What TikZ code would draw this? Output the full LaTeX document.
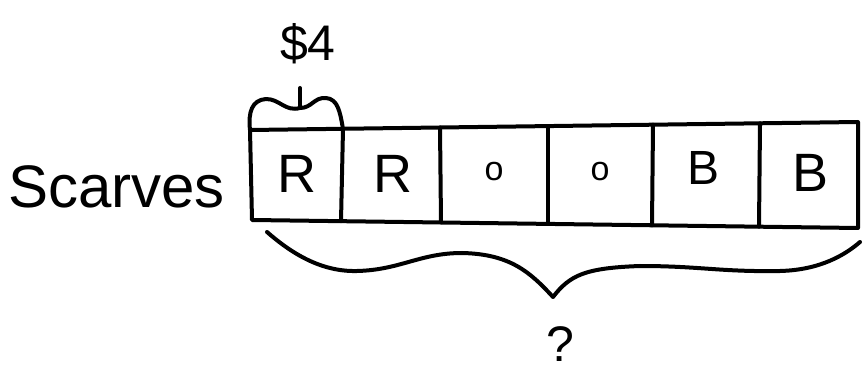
\documentclass[tikz,border=0pt]{standalone}
\usepackage{fontspec}
\setmainfont{Liberation Sans}
\begin{document}
\begin{tikzpicture}[x=1pt,y=-1pt,
  ink/.style={line width=4pt,line cap=round,line join=round,draw=black},
  lbl/.style={inner sep=0pt,anchor=center,text=black},
  big/.style={lbl,font=\fontsize{54}{54}\selectfont},
  small/.style={lbl,font=\fontsize{34}{34}\selectfont}]
\useasboundingbox (0,0) rectangle (867,371);
% corners
\coordinate (tl) at (250,130);
\coordinate (tr) at (858,122);
\coordinate (bl) at (252,220);
\coordinate (br) at (858,228);
% outer box
\draw[ink] (tl) -- (tr) -- (br) -- (bl) -- cycle;
% dividers
\foreach \xt/\xb [count=\i] in {343/341,440/441,548/548,653/652,760/759}{
  \coordinate (dt\i) at (\xt,{130-8*(\xt-250)/608});
  \coordinate (db\i) at (\xb,{220+8*(\xb-252)/606});
  \draw[ink] (dt\i) -- (db\i);
}
% cell labels
\node[big] (c1) at (297,174) {R};
\node[big] (c2) at (393,174) {R};
\node[small] (c3) at (494,172) {o};
\node[small] (c4) at (600,172) {o};
\node[big,font=\fontsize{48}{48}\selectfont] (c5) at (703,168) {B};
\node[big] (c6) at (810,173) {B};
% label Scarves
\node[lbl,anchor=west,font=\fontsize{60}{60}\selectfont] (scarves) at (8,187) {Scarves};
% top brace
\draw[ink] (tl) .. controls (248,112) and (252,100) .. (266,99)
  .. controls (280,99) and (285,112) .. (300,108)
  .. controls (312,108) and (314,97) .. (326,98)
  .. controls (338,99) and (340,112) .. (dt1);
\coordinate (tip1) at (300,108);
\coordinate (tip1top) at (300,88);
\draw[ink] (tip1) -- (tip1top);
\node[lbl,font=\fontsize{50}{50}\selectfont] (price) at (308,44) {\$4};
% bottom brace
\coordinate (bstart) at (267,232);
\coordinate (btip) at (553,297);
\coordinate (bend) at (860,242);
\draw[ink] (bstart) .. controls (290,252) and (320,272) .. (357,271)
  .. controls (400,270) and (420,253) .. (462,253)
  .. controls (510,254) and (530,272) .. (btip)
  .. controls (570,275) and (585,268) .. (640,266)
  .. controls (700,266) and (720,272) .. (780,271)
  .. controls (820,270) and (845,255) .. (bend);
\node[lbl,font=\fontsize{50}{50}\selectfont] (q) at (560,344) {?};
\end{tikzpicture}
\end{document}
